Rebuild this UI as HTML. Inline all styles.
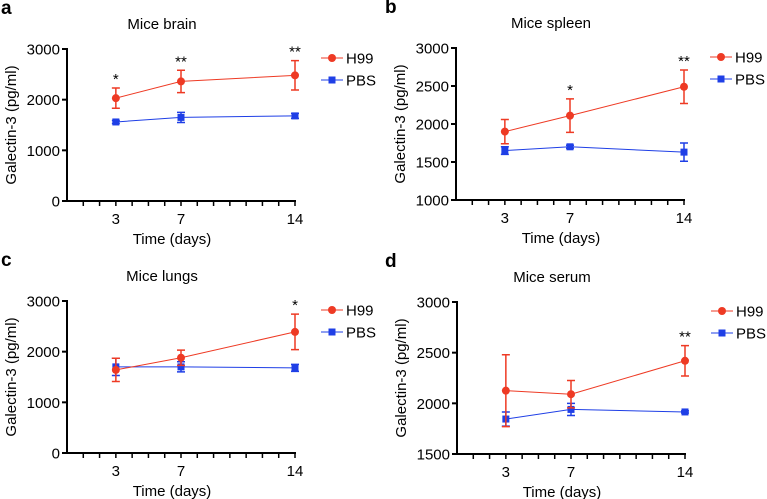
<!DOCTYPE html>
<html><head><meta charset="utf-8"><style>
html,body{margin:0;padding:0;background:#fff;width:767px;height:499px;overflow:hidden}
svg text{font-family:"Liberation Sans",Arial,sans-serif;fill:#000}
</style></head><body>
<svg id="chart" width="767" height="499" viewBox="0 0 767 499"></svg>
<script>
const days=[3,7,14];
const panelLetters=['a','b','c','d'];
const panelTitles=['Mice brain','Mice spleen','Mice lungs','Mice serum'];
const yMins=[0,1000,0,1500];
const yMaxs=[3000,3000,3000,3000];
const yTickLists=[[0,1000,2000,3000],[1000,1500,2000,2500,3000],[0,1000,2000,3000],[1500,2000,2500,3000]];
const h99A=[2030,2360,2480], h99ErrA=[200,220,290], pbsA=[1560,1650,1680], pbsErrA=[30,100,50];
const h99B=[1900,2110,2490], h99ErrB=[160,220,220], pbsB=[1650,1700,1630], pbsErrB=[50,20,120];
const h99C=[1640,1880,2390], h99ErrC=[230,150,350], pbsC=[1700,1700,1680], pbsErrC=[170,100,70];
const h99D=[2125,2090,2420], h99ErrD=[355,135,150], pbsD=[1845,1940,1915], pbsErrD=[70,60,10];
const starsA=['*','**','**'], starsB=['','*','**'], starsC=['','','*'], starsD=['','','**'];

const h99s=[h99A,h99B,h99C,h99D], h99Errs=[h99ErrA,h99ErrB,h99ErrC,h99ErrD];
const pbss=[pbsA,pbsB,pbsC,pbsD], pbsErrs=[pbsErrA,pbsErrB,pbsErrC,pbsErrD];
const starss=[starsA,starsB,starsC,starsD];
const origins=[[67,49],[456,48],[67,301],[457,302]];
const W=228,H=152;
const svg=document.getElementById('chart');
const NS='http://www.w3.org/2000/svg';
function mk(tag,attrs,parent,text){const e=document.createElementNS(NS,tag);for(const k in attrs)e.setAttribute(k,attrs[k]);if(text!==undefined)e.textContent=text;parent.appendChild(e);return e;}
const RED='#ee3a24',BLUE='#1f3fe6';
const FS=15;
for(let p=0;p<4;p++){
  const [ox,oy]=origins[p];
  const g=mk('g',{},svg);
  
  
  const xs=d=>ox+d/14*W;
  const ys=v=>oy+H-(v-yMins[p])/(yMaxs[p]-yMins[p])*H;
  const lt=mk('text',{x:(p%2?384:0)+1,y:oy-35,'font-size':19,'font-weight':'bold'},g,panelLetters[p]);
  
  const tt=mk('text',{x:ox+W/2-19,y:oy-20,'font-size':FS,'text-anchor':'middle'},g,panelTitles[p]);
  
  const ya=mk('line',{x1:ox,y1:oy-1,x2:ox,y2:oy+H+1,stroke:'#000','stroke-width':2},g);
  
  const xa=mk('line',{x1:ox-1,y1:oy+H,x2:ox+W+1,y2:oy+H,stroke:'#000','stroke-width':2},g);
  
  yTickLists[p].forEach(v=>{
    mk('line',{x1:ox-5,y1:ys(v),x2:ox,y2:ys(v),stroke:'#000','stroke-width':2},g);
    const t=mk('text',{x:ox-7,y:ys(v)+5.5,'font-size':FS,'text-anchor':'end'},g,String(v));
    
  });
  for(let d=1;d<=14;d++) mk('line',{x1:xs(d),y1:oy+H,x2:xs(d),y2:oy+H+5,stroke:'#000','stroke-width':1.5},g);
  days.forEach(d=>{const t=mk('text',{x:xs(d),y:oy+H+23,'font-size':FS,'text-anchor':'middle'},g,String(d));
    });
  const xt=mk('text',{x:ox+W/2-9,y:oy+H+43,'font-size':FS,'text-anchor':'middle'},g,'Time (days)');
  
  const yt=mk('text',{x:0,y:0,'font-size':FS,'text-anchor':'middle',transform:`translate(${ox-51},${oy+H/2}) rotate(-90)`},g,'Galectin-3 (pg/ml)');
  
  [[pbss[p],pbsErrs[p],BLUE,'pbs'],[h99s[p],h99Errs[p],RED,'h99']].forEach(([vals,errs,col,nm])=>{
    const pts=vals.map((v,i)=>xs(days[i])+','+ys(v)).join(' ');
    const l=mk('polyline',{points:pts,fill:'none',stroke:col,'stroke-width':1},g);
    
    vals.forEach((v,i)=>{
      const x=xs(days[i]);
      const eb=mk('path',{d:`M${x},${ys(v+errs[i])}V${ys(v-errs[i])}M${x-4},${ys(v+errs[i])}H${x+4}M${x-4},${ys(v-errs[i])}H${x+4}`,stroke:col,'stroke-width':1.5,fill:'none'},g);
      
      let m;
      if(nm==='h99') m=mk('circle',{cx:x,cy:ys(v),r:4,fill:col},g);
      else m=mk('rect',{x:x-3.5,y:ys(v)-3.5,width:7,height:7,fill:col},g);
      
    });
  });
  starss[p].forEach((s,i)=>{ if(!s)return;
    const top=ys(h99s[p][i]+h99Errs[p][i]);
    const t=mk('text',{x:xs(days[i]),y:top-4,'font-size':FS,'text-anchor':'middle'},g,s);
    
  });
  const lg=mk('g',{},g);
  
  [['H99',RED,'circle',9],['PBS',BLUE,'rect',31]].forEach(([lab,col,sh,dy])=>{
    const lx=ox+254,ly=oy+dy;
    mk('line',{x1:lx,y1:ly,x2:lx+22,y2:ly,stroke:col,'stroke-width':1},lg);
    if(sh==='circle')mk('circle',{cx:lx+11,cy:ly,r:4,fill:col},lg);
    else mk('rect',{x:lx+7.5,y:ly-3.5,width:7,height:7,fill:col},lg);
    const t=mk('text',{x:lx+25,y:ly+5.5,'font-size':FS},lg,lab);
    
  });
}
</script>
</body></html>
